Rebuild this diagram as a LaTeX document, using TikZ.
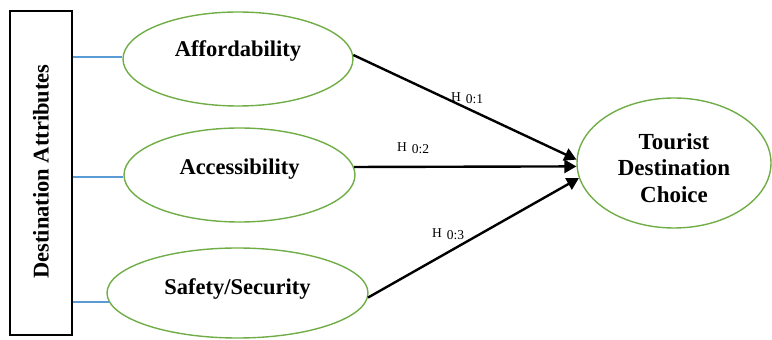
\documentclass[tikz,border=0pt]{standalone}
\usepackage{fontspec}
\setmainfont{Liberation Serif}
\usetikzlibrary{shapes.geometric,arrows.meta}
\definecolor{ovalgreen}{RGB}{112,173,71}
\definecolor{linkblue}{RGB}{91,155,213}
\tikzset{
  attr/.style={ellipse, draw=ovalgreen, line width=1.4pt, inner sep=0pt},
  bigtext/.style={font=\fontsize{22.5}{26.5}\selectfont\bfseries, align=center, inner sep=0pt},
  hyp/.style={font=\fontsize{13.5}{15}\selectfont, inner sep=0pt, anchor=west},
  link/.style={draw=linkblue, line width=1.3pt},
  path/.style={draw=black, line width=2.4pt, -{Triangle[length=12pt,width=13pt]}},
}
\newcommand{\hyplabel}[1]{H\hspace{5pt}\raisebox{-2.5pt}{0:#1}}
\begin{document}
\begin{tikzpicture}[x=1pt,y=1pt]
  \useasboundingbox (0,0) rectangle (772,340);

  % construct box on the left
  \node[draw=black, line width=1.6pt, minimum width=62pt, minimum height=324pt, inner sep=0pt]
    (box) at (41,167) {};
  \node[bigtext, rotate=90] (boxtext) at (41,168.5) {Destination Attributes};

  % attribute ovals
  \node[attr, minimum width=230pt, minimum height=94pt] (e1) at (238,281) {};
  \node[bigtext] (t1) at (238,289) {Affordability};
  \node[attr, minimum width=231pt, minimum height=94pt] (e2) at (239.5,165) {};
  \node[bigtext] (t2) at (239.5,171) {Accessibility};
  \node[attr, minimum width=261pt, minimum height=90pt] (e3) at (237.5,47) {};
  \node[bigtext] (t3) at (237.5,51) {Safety/Security};

  % outcome oval
  \node[attr, minimum width=194pt, minimum height=130pt] (e4) at (674,177) {};
  \node[bigtext, font=\fontsize{23}{26.5}\selectfont\bfseries] (t4) at (674,172) {Tourist\\Destination\\Choice};

  % links from the box to each attribute
  \draw[link] (e1.179 -| box.east) -- (e1.179);
  \draw[link] (e2.181.5 -| box.east) -- (e2.181.5);
  \draw[link] (e3.184 -| box.east) -- (e3.184);

  % hypothesised paths
  \draw[path] (e1.2) -- (e4.178);
  \draw[path] (e2.4.5) -- (e4.182);
  \draw[path] (e3.-2) -- (e4.189);

  \node[hyp] (h1) at (451,242) {\hyplabel{1}};
  \node[hyp] (h2) at (397,192) {\hyplabel{2}};
  \node[hyp] (h3) at (432,106) {\hyplabel{3}};
\end{tikzpicture}
\end{document}
